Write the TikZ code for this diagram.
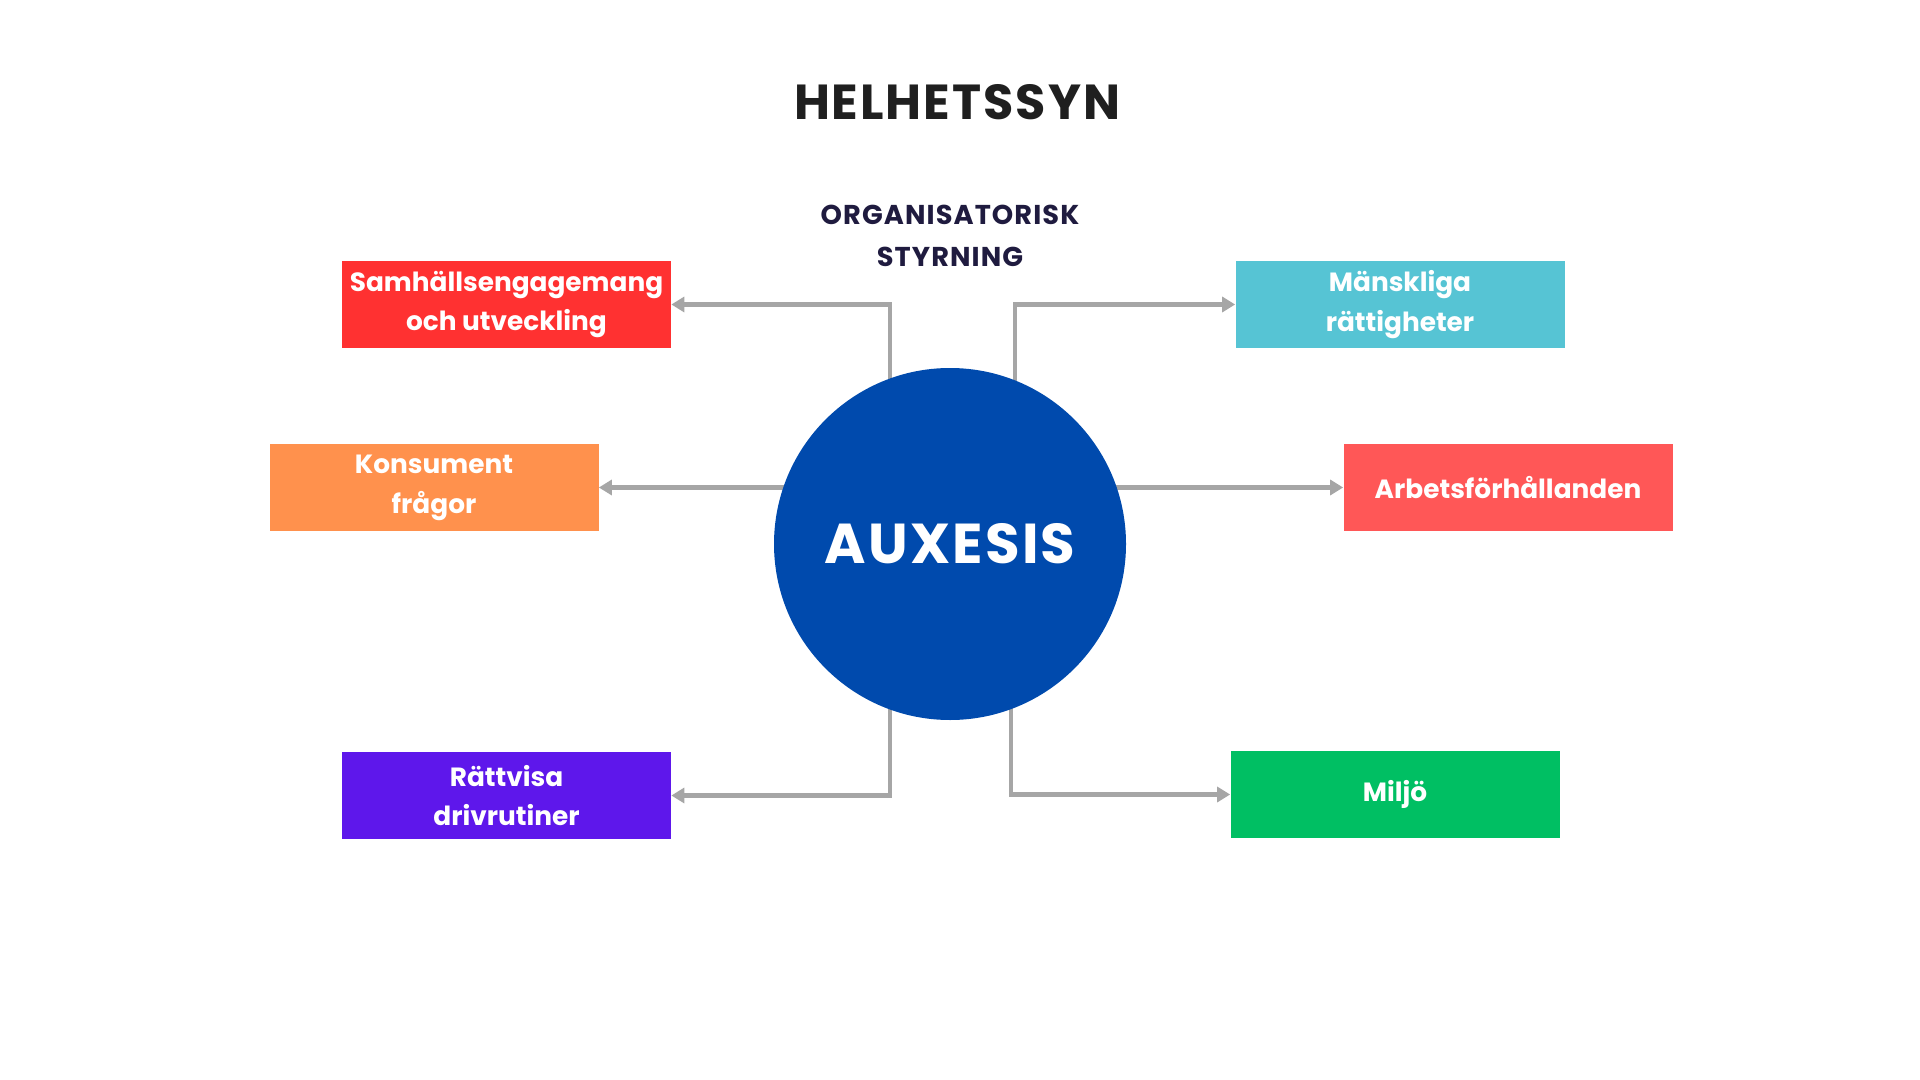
\documentclass[tikz,border=0pt]{standalone}
\usepackage{fontspec}
\setmainfont{Poppins}
\newfontfamily\widefont[LetterSpace=4]{Poppins}
\usetikzlibrary{calc,arrows.meta}
\definecolor{boxred}{HTML}{FF3131}
\definecolor{boxcyan}{HTML}{56C4D4}
\definecolor{boxorange}{HTML}{FF914D}
\definecolor{boxsalmon}{HTML}{FF5757}
\definecolor{boxviolet}{HTML}{5E17EB}
\definecolor{boxgreen}{HTML}{00BF63}
\definecolor{auxblue}{HTML}{004AAD}
\definecolor{linegray}{HTML}{A6A6A6}
\definecolor{navytext}{HTML}{1F1B3F}
\tikzset{>={Triangle[length=0.26cm,width=0.3cm]}}
\tikzset{area/.style={minimum width=6.58cm,minimum height=1.74cm,
    text=white,align=center,font=\fontsize{15}{22.7}\selectfont\bfseries},
  conn/.style={draw=linegray,line width=2.3pt,->,color=linegray}}

\begin{document}
\begin{tikzpicture}
\useasboundingbox[fill=white] (0,0) rectangle (38.4,-21.6);
\node[text=black!88,font=\widefont\fontsize{28}{34}\selectfont\bfseries] (title) at (19.14,-2.04) {HELHETSSYN};
\node[text=navytext,align=center,font=\widefont\fontsize{15.5}{23.5}\selectfont\bfseries] (org) at (19,-4.72) {ORGANISATORISK\\STYRNING};
\node[area,fill=boxred] (samh) at (10.13,-6.09) {Samhällsengagemang\\och utveckling};
\node[area,fill=boxcyan] (mansk) at (28.0,-6.09) {Mänskliga\\rättigheter};
\node[area,fill=boxorange] (kons) at (8.68,-9.75) {Konsument\\frågor};
\node[area,fill=boxsalmon] (arb) at (30.16,-9.75) {Arbetsförhållanden};
\node[area,fill=boxviolet] (ratt) at (10.13,-15.91) {Rättvisa\\drivrutiner};
\node[area,fill=boxgreen] (milj) at (27.9,-15.89) {Miljö};
\coordinate (circ) at (19,-10.88);
\draw[conn] ($(circ)+(-1.2,0)$) |- (samh.east);
\draw[conn] ($(circ)+(1.3,0)$) |- (mansk.west);
\draw[conn] (circ |- kons.east) -- (kons.east);
\draw[conn] (circ |- arb.west) -- (arb.west);
\draw[conn] ($(circ)+(-1.2,0)$) |- (ratt.east);
\draw[conn] ($(circ)+(1.22,0)$) |- (milj.west);
\node[circle,fill=auxblue,minimum size=7.04cm,text=white,
  font=\widefont\fontsize{32}{38}\selectfont\bfseries] (aux) at (circ) {AUXESIS};
\end{tikzpicture}
\end{document}
